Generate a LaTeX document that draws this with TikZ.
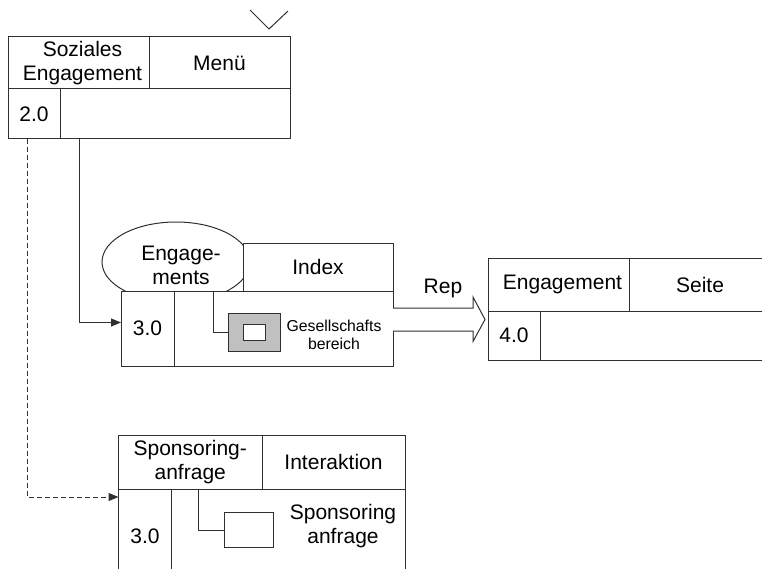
\documentclass[tikz,border=0pt]{standalone}
\usepackage{fontspec}
\setmainfont{Liberation Sans}
\usetikzlibrary{calc,shapes.geometric,arrows.meta}
\definecolor{lc}{HTML}{303030}
\definecolor{lgray}{HTML}{C0C0C0}
\begin{document}
\begin{tikzpicture}[x=1pt,y=-1pt,
  ln/.style={draw=lc, line width=1pt},
  cell/.style={ln, fill=white, rectangle, inner sep=0pt, outer sep=0pt, anchor=north west, align=center, font=\fontsize{21}{24}\selectfont},
  small/.style={font=\fontsize{15.8}{18.5}\selectfont, align=center, inner sep=0pt},
  big/.style={font=\fontsize{21}{24}\selectfont, align=center, inner sep=0pt},
  tip/.style={-{Triangle[length=10pt,width=8pt]}},
  dsh/.style={dash pattern=on 5pt off 3pt}
]
\useasboundingbox (0,0) rectangle (762,569);
\clip (0,0) rectangle (762,569);

% Box 2.0
\node[cell, minimum width=141pt, minimum height=52pt,
  label={[big, xshift=4pt]center:Soziales\\Engagement}] (b2h) at (8,37) {};
\node[cell, minimum width=141pt, minimum height=52pt] (b2m) at (149,37) {Menü};
\node[cell, minimum width=52pt, minimum height=50pt] (b2n) at (8,89) {2.0};
\node[cell, minimum width=230pt, minimum height=50pt] (b2b) at (60,89) {};
\draw[ln] (250,10) -- (269,29) -- (288,11);

% Box 3.0 (Engagements / Index)
\node[ln, fill=white, ellipse, minimum width=148pt, minimum height=80pt, inner sep=0pt,
  label={[big, xshift=5pt, yshift=-3pt]center:Engage-\\ments}] (b3e) at (176,262) {};
\node[cell, minimum width=150pt, minimum height=48pt] (b3h) at (243,243) {Index};
\node[cell, minimum width=53pt, minimum height=75pt] (b3n) at (121,291) {3.0};
\node[cell, minimum width=219pt, minimum height=75pt] (b3b) at (174,291) {};
\node[ln, fill=lgray, minimum width=52pt, minimum height=38pt, inner sep=0pt, anchor=north west] (g3) at (228,313) {};
\node[ln, fill=white, minimum width=22pt, minimum height=16pt, inner sep=0pt] (g3i) at (g3.center) {};
\node[small] (t3) at (334,335) {Gesellschafts\\bereich};
\draw[ln] ([xshift=39pt]b3b.north west) |- (g3.west);

% Box 4.0
\node[cell, minimum width=141pt, minimum height=53pt,
  label={[big, xshift=4pt]center:Engagement}] (b4h) at (488,258) {};
\node[cell, minimum width=142pt, minimum height=53pt] (b4s) at (629,258) {Seite};
\node[cell, minimum width=52pt, minimum height=49pt] (b4n) at (488,311) {4.0};
\node[cell, minimum width=231pt, minimum height=49pt] (b4b) at (540,311) {};

% Rep arrow
\draw[ln, fill=white]
  ($(b3b.north east)+(0,17)$) -- ($(b4n.north west)+(-15,-3)$) -- ($(b4n.north west)+(-15,-14)$)
  -- ($(b4n.north west)+(-3,8.5)$) -- ($(b4n.north west)+(-15,30.5)$) -- ($(b4n.north west)+(-15,20)$)
  -- ($(b3b.north east)+(0,40)$);
\node[big] (rep) at (443,288) {Rep};

% Box Sponsoringanfrage
\node[cell, minimum width=143.5pt, minimum height=54pt] (b5h) at (118.5,435) {Sponsoring-\\anfrage};
\node[cell, minimum width=143pt, minimum height=54pt] (b5i) at (262,435) {Interaktion};
\node[cell, minimum width=53pt, minimum height=95pt] (b5n) at (118.5,489) {3.0};
\node[cell, minimum width=233.5pt, minimum height=95pt] (b5b) at (171.5,489) {};
\node[ln, fill=white, minimum width=49pt, minimum height=35pt, inner sep=0pt, anchor=north west] (r5) at (223.5,512) {};
\node[big] (t5) at (343,526) {Sponsoring\\anfrage};
\draw[ln] ([xshift=27pt]b5b.north west) |- (r5.west);

% Connectors
\draw[ln, tip] ([xshift=19pt]b2b.south west) |- ([yshift=6pt]b3n.west);
\draw[ln, dsh, tip] ([xshift=19pt]b2n.south west) |- ([yshift=-8pt]b5n.north west);
\end{tikzpicture}
\end{document}
